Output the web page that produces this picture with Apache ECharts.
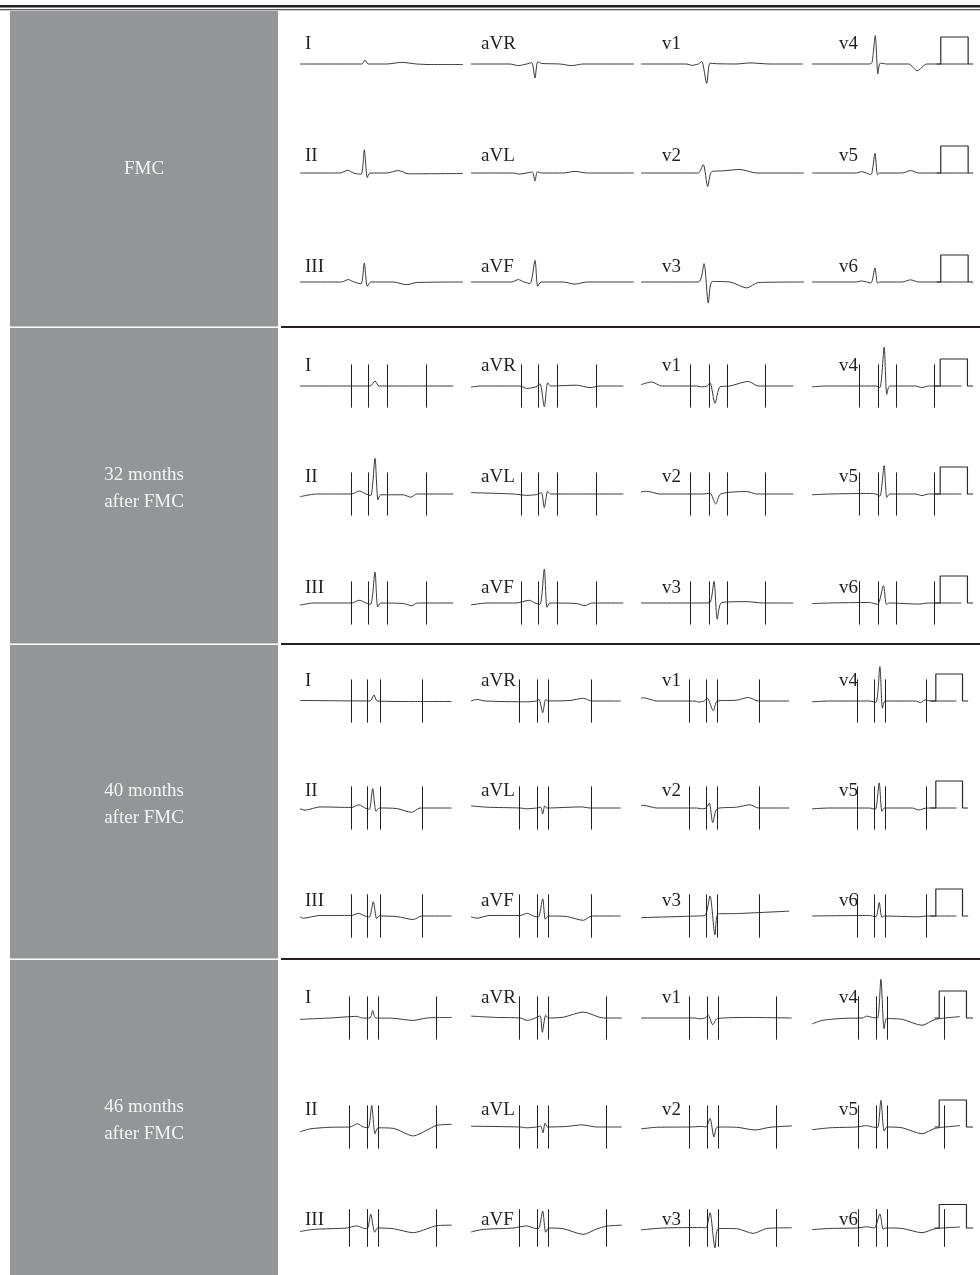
<!DOCTYPE html>
<html><head><meta charset="utf-8">
<script src="https://cdn.jsdelivr.net/npm/echarts/dist/echarts.min.js"></script>
<style>html,body{margin:0;padding:0;background:#fff}#c{width:980px;height:1275px}</style>
</head><body><div id="c"></div>
<script>
// ---------- DATA (time in ms, amplitude in mV) ----------
const blockTitles = [['FMC'], ['32 months', 'after FMC'], ['40 months', 'after FMC'], ['46 months', 'after FMC']];
const leadRows = [['I', 'aVR', 'v1', 'v4'], ['II', 'aVL', 'v2', 'v5'], ['III', 'aVF', 'v3', 'v6']];

// Block 1: FMC
const b1_I   = [[0,0],[467,0],[617,0],[650,0.14],[683,0],[867,0],[1017,0.06],[1167,0],[1300,-0.02],[1630,-0.02]];
const b1_aVR = [[0,0],[390,0],[473,-0.06],[557,0],[607,0.05],[640,-0.52],[667,0.08],[707,0.02],[890,0],[1007,-0.06],[1120,0],[1630,0]];
const b1_v1  = [[0,0],[457,0],[507,-0.05],[573,0],[607,0.1],[657,-0.72],[690,0.03],[757,0.01],[950,0],[1090,0.04],[1290,0],[1620,0]];
const b1_v4  = [[0,0],[580,0],[607,0.05],[640,1.05],[667,-0.37],[690,0.03],[760,0],[980,0],[1063,-0.25],[1163,0],[1580,0]];
const b1_II  = [[0,0],[400,0],[477,0.1],[533,0],[610,-0.05],[643,0.86],[673,-0.17],[700,0],[867,0],[983,0.09],[1083,-0.03],[1630,-0.02]];
const b1_aVL = [[0,0],[423,0],[483,-0.04],[557,0],[613,0.04],[640,-0.3],[663,0.04],[707,0],[923,0],[1040,0.06],[1157,0],[1630,0]];
const b1_v2  = [[0,0],[490,0],[573,0],[623,0.31],[667,-0.5],[707,0.05],[823,0.08],[990,0.13],[1157,0],[1630,0]];
const b1_v5  = [[0,0],[450,0],[500,0.05],[550,0],[597,-0.06],[637,0.73],[663,-0.06],[687,0],[913,0],[997,0.09],[1080,0],[1580,0]];
const b1_III = [[0,0],[417,0],[483,0.09],[540,0],[610,-0.07],[643,0.7],[673,-0.16],[707,0],[933,0],[1067,-0.1],[1167,-0.02],[1630,0]];
const b1_aVF = [[0,0],[407,0],[473,0.09],[530,0],[590,-0.06],[640,0.8],[667,-0.16],[700,0],[923,0],[1040,-0.08],[1157,0],[1630,0]];
const b1_v3  = [[0,0],[573,0],[630,0.68],[673,-0.78],[713,0.02],[890,0],[1057,-0.22],[1173,-0.02],[1630,0]];
const b1_v6  = [[0,0],[450,0],[500,0.04],[550,0],[597,-0.04],[637,0.52],[663,-0.04],[687,0],[913,0],[997,0.08],[1080,0],[1580,0]];

// Block 2: 32 months after FMC
const b2_I   = [[0,0],[700,0],[750,0.18],[790,0],[1533,0]];
const b2_aVR = [[0,-0.04],[90,0],[490,0],[557,-0.09],[650,-0.03],[690,0.08],[733,-0.77],[767,0.12],[797,0],[1057,0.03],[1190,-0.06],[1290,0],[1523,0]];
const b2_v1  = [[0,0.05],[107,0.15],[207,0],[557,0],[607,-0.03],[663,0],[690,0.12],[740,-0.64],[790,-0.03],[890,0],[1073,0.17],[1173,0],[1523,0]];
const b2_v4  = [[0,-0.03],[147,0],[647,0],[687,-0.06],[730,1.44],[757,-0.31],[787,0],[1047,0],[1113,-0.06],[1180,0],[1513,0]];
const b2_II  = [[0,-0.1],[67,-0.05],[167,0],[517,0],[593,0.11],[660,0],[707,-0.06],[750,1.32],[780,-0.22],[807,-0.03],[1033,-0.03],[1107,-0.12],[1167,0],[1533,0]];
const b2_aVL = [[0,0.05],[423,0],[557,-0.05],[657,-0.02],[703,0.05],[733,-0.5],[767,0.1],[797,0],[1523,0]];
const b2_v2  = [[0,0.08],[57,0.1],[190,0],[623,0],[690,0.03],[747,-0.37],[797,0],[1057,0.09],[1157,0],[1523,0]];
const b2_v5  = [[0,-0.03],[180,0],[580,0.02],[647,0],[687,-0.08],[730,1.05],[757,-0.12],[787,0],[1047,0],[1113,-0.06],[1180,0],[1513,0]];
const b2_III = [[0,-0.08],[133,0],[517,0],[593,0.1],[660,0],[707,-0.05],[750,1.15],[777,-0.15],[807,0],[1033,-0.02],[1117,-0.1],[1173,0],[1533,0]];
const b2_aVF = [[0,-0.07],[160,0],[447,0],[583,0.1],[640,0],[690,-0.05],[733,1.26],[760,-0.16],[790,0],[1057,-0.02],[1140,-0.1],[1207,0],[1523,0]];
const b2_v3  = [[0,0],[623,0],[690,0.02],[730,0.8],[763,-0.6],[807,0.02],[1057,0.05],[1223,0],[1523,0]];
const b2_v6  = [[0,-0.02],[180,0],[580,0.02],[663,-0.05],[723,0.64],[753,-0.05],[780,0],[1080,-0.04],[1180,0],[1513,0]];

// Block 3: 40 months after FMC
const b3_I   = [[0,0.02],[700,0],[740,0.22],[773,0],[1133,-0.02],[1517,-0.02]];
const b3_aVR = [[0,0],[57,0.06],[140,0],[557,-0.03],[657,0],[680,0.06],[717,-0.43],[747,0.05],[773,0],[990,0.02],[1123,0.1],[1207,0],[1497,0]];
const b3_v1  = [[0,0.1],[23,0.12],[157,0],[540,0],[573,-0.04],[630,0],[663,0.1],[723,-0.36],[763,0],[957,0.03],[1073,0.13],[1173,0],[1483,0]];
const b3_v4  = [[0,-0.03],[180,0],[580,0],[647,-0.05],[687,1.27],[713,-0.27],[740,0],[1047,0],[1097,-0.06],[1147,0.04],[1197,0],[1463,0]];
const b3_II  = [[0,-0.03],[50,-0.08],[200,0.04],[517,0.02],[590,0.12],[650,0],[693,-0.05],[727,0.72],[760,-0.12],[793,0],[967,-0.02],[1117,-0.16],[1200,0],[1517,0]];
const b3_aVL = [[0,0.08],[157,0.03],[490,0],[557,-0.03],[657,0],[697,0.03],[717,-0.22],[737,0.08],[757,0],[1107,0.04],[1190,0],[1497,0]];
const b3_v2  = [[0,0.08],[23,0.1],[157,0],[557,0],[607,-0.03],[650,0],[683,0.18],[717,-0.54],[763,-0.02],[957,0.03],[1090,0.12],[1173,0],[1483,0]];
const b3_v5  = [[0,-0.03],[180,0],[580,0],[640,-0.05],[680,0.93],[707,-0.12],[733,0],[1013,0],[1080,-0.07],[1163,0],[1463,0]];
const b3_III = [[0,-0.03],[33,-0.08],[200,0.02],[517,0.02],[583,0.1],[650,0],[693,-0.04],[733,0.53],[767,-0.1],[793,0],[967,-0.02],[1133,-0.13],[1217,0],[1517,0]];
const b3_aVF = [[0,-0.03],[57,-0.08],[190,0.02],[490,0.02],[563,0.1],[623,0],[673,-0.04],[717,0.64],[743,-0.12],[773,0],[957,-0.02],[1123,-0.16],[1207,0],[1497,0]];
const b3_v3  = [[0,-0.06],[557,0],[640,0.02],[690,0.74],[740,-0.7],[773,0.08],[957,0.09],[1483,0.18]];
const b3_v6  = [[0,0],[580,0.02],[647,-0.03],[680,0.5],[707,-0.05],[733,0],[1080,-0.03],[1163,0],[1463,0]];

// Block 4: 46 months after FMC
const b4_I   = [[0,-0.05],[300,0],[573,0.06],[617,0],[700,0],[727,0.28],[757,0],[933,-0.01],[1133,-0.09],[1267,0],[1517,0.02]];
const b4_aVR = [[0,0.07],[257,0.02],[490,0],[563,-0.09],[630,-0.02],[690,0.08],[713,-0.53],[747,0.1],[777,0],[923,0.03],[1123,0.22],[1323,0],[1507,0]];
const b4_v1  = [[0,0],[540,0],[583,-0.03],[640,0],[673,0.1],[717,-0.25],[763,-0.02],[1090,0.02],[1507,0]];
const b4_v4  = [[0,-0.22],[113,-0.08],[347,-0.01],[513,0],[553,0.07],[613,0.02],[663,0],[697,1.43],[730,-0.4],[757,-0.02],[913,-0.05],[1113,-0.27],[1247,-0.05],[1497,0.05]];
const b4_II  = [[0,-0.18],[100,-0.07],[300,-0.01],[500,0],[573,0.12],[633,0],[683,-0.03],[717,0.8],[750,-0.25],[780,-0.03],[933,-0.05],[1133,-0.33],[1267,-0.12],[1367,0.06],[1517,0.1]];
const b4_aVL = [[0,0.03],[490,0],[557,-0.03],[657,0],[697,0.03],[720,-0.22],[740,0.14],[767,0],[957,0.02],[1107,0.08],[1257,0],[1507,0]];
const b4_v2  = [[0,-0.07],[157,-0.01],[490,0],[607,0.02],[650,0],[690,0.32],[730,-0.37],[763,0],[957,-0.01],[1140,-0.11],[1290,-0.01],[1507,0.04]];
const b4_v5  = [[0,-0.1],[180,-0.03],[447,0],[553,0.05],[613,0],[663,-0.02],[697,0.99],[730,-0.15],[757,0],[913,-0.03],[1113,-0.25],[1247,-0.05],[1497,0.05]];
const b4_III = [[0,-0.15],[133,-0.06],[467,0],[567,0.09],[627,0],[673,-0.03],[707,0.59],[747,-0.18],[777,0],[933,-0.03],[1133,-0.2],[1267,-0.04],[1367,0.1],[1517,0.12]];
const b4_aVF = [[0,-0.17],[123,-0.06],[423,0],[557,0.09],[623,0],[673,-0.03],[717,0.72],[747,-0.18],[777,0],[923,-0.03],[1123,-0.27],[1257,-0.04],[1357,0.08],[1507,0.12]];
const b4_v3  = [[0,-0.08],[223,0],[607,0.02],[650,0],[690,0.65],[740,-0.85],[773,-0.02],[957,-0.03],[1123,-0.23],[1257,-0.02],[1507,0.01]];
const b4_v6  = [[0,-0.07],[180,-0.02],[447,0],[553,0.05],[630,0],[687,0.6],[720,-0.05],[747,0],[913,-0.02],[1113,-0.2],[1247,-0.03],[1497,0.04]];

// 1 mV calibration pulses (time ms, mV)
const cal_b1 = [[1263,0],[1303,0],[1303,1],[1580,1],[1580,0],[1630,0]];
const cal_b2 = [[1240,0],[1297,0],[1297,1],[1573,1],[1573,0],[1630,0]];
const cal_b3 = [[1197,0],[1253,0],[1253,1],[1523,1],[1523,0],[1580,0]];
const cal_b4 = [[1240,0],[1287,0],[1287,1],[1563,1],[1563,0],[1630,0]];

// vertical marker times (ms) per column
const marks_b1 = [[], [], [], []];
const marks_b2 = [[510,680,870,1260],[500,670,860,1250],[490,680,860,1240],[480,670,850,1240]];
const marks_b3 = [[510,670,800,1220],[480,660,770,1200],[480,650,760,1180],[460,630,740,1160]];
const marks_b4 = [[490,670,780,1360],[480,660,770,1350],[480,660,770,1350],[470,650,760,1340]];

// ---------- assembly ----------
const blocks = [
  {I:b1_I,aVR:b1_aVR,v1:b1_v1,v4:b1_v4,II:b1_II,aVL:b1_aVL,v2:b1_v2,v5:b1_v5,III:b1_III,aVF:b1_aVF,v3:b1_v3,v6:b1_v6},
  {I:b2_I,aVR:b2_aVR,v1:b2_v1,v4:b2_v4,II:b2_II,aVL:b2_aVL,v2:b2_v2,v5:b2_v5,III:b2_III,aVF:b2_aVF,v3:b2_v3,v6:b2_v6},
  {I:b3_I,aVR:b3_aVR,v1:b3_v1,v4:b3_v4,II:b3_II,aVL:b3_aVL,v2:b3_v2,v5:b3_v5,III:b3_III,aVF:b3_aVF,v3:b3_v3,v6:b3_v6},
  {I:b4_I,aVR:b4_aVR,v1:b4_v1,v4:b4_v4,II:b4_II,aVL:b4_aVL,v2:b4_v2,v5:b4_v5,III:b4_III,aVF:b4_aVF,v3:b4_v3,v6:b4_v6}
];
const cals = [cal_b1, cal_b2, cal_b3, cal_b4];
const marks = [marks_b1, marks_b2, marks_b3, marks_b4];

// layout
const colLeft = [300, 471, 641, 812];
const labelX = [305, 481, 662, 839];
const rowBase = [[64,173,282],[386,494,603],[701,808,916],[1018,1127,1235]];
const labelOff = [20, 17, 15];
const blockTop = [11, 328, 645, 960];
const blockBot = [326.5, 643.5, 958.5, 1275];
const PX_PER_MV = 27;
const FONT = '"Liberation Serif", "Times New Roman", serif';

const grids = [], xAxes = [], yAxes = [], series = [];
const graphics = [];

// top double rule
graphics.push({type:'rect', shape:{x:0,y:5,width:980,height:2.6}, style:{fill:'#231f20'}, silent:true});
graphics.push({type:'rect', shape:{x:0,y:9.3,width:980,height:1}, style:{fill:'#231f20'}, silent:true});

blockTitles.forEach((title, b) => {
  graphics.push({type:'rect', shape:{x:10,y:blockTop[b],width:268,height:blockBot[b]-blockTop[b]}, style:{fill:'#939598'}, silent:true});
  if (b > 0) {
    graphics.push({type:'rect', shape:{x:281,y:blockTop[b]-2,width:699,height:2}, style:{fill:'#231f20'}, silent:true});
  }
  const cy = (blockTop[b] + blockBot[b]) / 2 + (title.length > 1 ? 3 : 0);
  graphics.push({type:'text', x:144, y:cy, silent:true,
    style:{text:title.join('\n'), fill:'#f4f4f4', font:'19px ' + FONT, textAlign:'center', textVerticalAlign:'middle', lineHeight:27}});
  leadRows.forEach((row, r) => {
    row.forEach((lead, c) => {
      const base = rowBase[b][r];
      const gi = grids.length;
      grids.push({left: colLeft[c], top: base - 2 * PX_PER_MV, width: 170, height: 4 * PX_PER_MV});
      xAxes.push({type:'value', gridIndex: gi, min: 0, max: 1700, show: false});
      yAxes.push({type:'value', gridIndex: gi, min: -2, max: 2, show: false});
      const s = {
        type:'line', xAxisIndex: gi, yAxisIndex: gi, data: blocks[b][lead],
        showSymbol:false, symbol:'none', smooth:0.25, silent:true, clip:false,
        lineStyle:{color:'#3a3a3a', width:1}, z:3
      };
      const m = marks[b][c];
      if (m.length) {
        s.markLine = {silent:true, symbol:['none','none'], label:{show:false}, animation:false,
          lineStyle:{color:'#231f20', width:1, type:'solid'},
          emphasis:{disabled:true},
          data: m.map(t => [{coord:[t,-0.8]},{coord:[t,0.8]}])};
      }
      series.push(s);
      if (c === 3) {
        series.push({type:'line', xAxisIndex: gi, yAxisIndex: gi, data: cals[b],
          showSymbol:false, symbol:'none', silent:true, clip:false,
          lineStyle:{color:'#2a2a2a', width:1.2}, z:4});
      }
      graphics.push({type:'text', x: labelX[c], y: base - labelOff[r], silent:true, z:10,
        style:{text: lead, fill:'#231f20', font:'19px ' + FONT, textAlign:'left', textVerticalAlign:'middle'}});
    });
  });
});
// white separators inside grey column
[327.2, 644.2, 959.2].forEach(y => {});

const chart = echarts.init(document.getElementById('c'), null, {renderer:'canvas'});
chart.setOption({
  animation:false,
  backgroundColor:'#ffffff',
  grid: grids, xAxis: xAxes, yAxis: yAxes, series: series,
  graphic: {elements: graphics}
});
</script></body></html>
